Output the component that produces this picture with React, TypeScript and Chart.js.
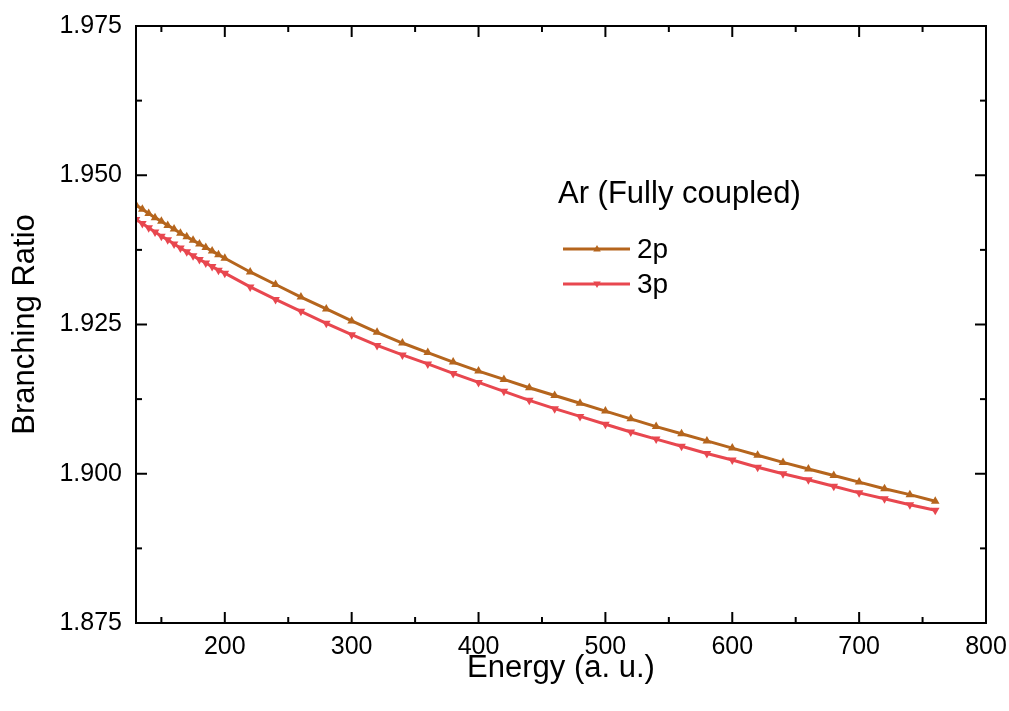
import React, { useEffect, useRef } from "react";
import { Chart, registerables } from "chart.js";

Chart.register(...registerables);

const energies = [
  130, 135, 140, 145, 150, 155, 160, 165, 170, 175, 180, 185, 190, 195, 200,
  220, 240, 260, 280, 300, 320, 340, 360, 380, 400, 420, 440, 460, 480, 500,
  520, 540, 560, 580, 600, 620, 640, 660, 680, 700, 720, 740, 760,
];

const ratio2p = [
  1.945, 1.9443, 1.9436, 1.9429, 1.9423, 1.9416, 1.941, 1.9403, 1.9397, 1.9391,
  1.9385, 1.9379, 1.9373, 1.9367, 1.9361, 1.9338, 1.9317, 1.9296, 1.9276,
  1.9256, 1.9237, 1.9219, 1.9203, 1.9187, 1.9172, 1.9158, 1.9144, 1.9131,
  1.9118, 1.9105, 1.9092, 1.9079, 1.9067, 1.9055, 1.9043, 1.9031, 1.9019,
  1.9008, 1.8997, 1.8986, 1.8975, 1.8965, 1.8954,
];

const ratio3p = [
  1.9426, 1.9419, 1.9412, 1.9405, 1.9398, 1.9392, 1.9385, 1.9378, 1.9372,
  1.9365, 1.9359, 1.9353, 1.9347, 1.9341, 1.9336, 1.9313, 1.9292, 1.9272,
  1.9252, 1.9233, 1.9215, 1.9199, 1.9184, 1.9168, 1.9153, 1.9138, 1.9123,
  1.9109, 1.9096, 1.9083, 1.907, 1.9058, 1.9046, 1.9034, 1.9023, 1.9011, 1.9,
  1.899, 1.8979, 1.8968, 1.8958, 1.8948, 1.8939,
];

const xMajorTicks = [200, 300, 400, 500, 600, 700, 800];
const xMinorTicks = [150, 250, 350, 450, 550, 650, 750];
const yMajorTicks = [1.875, 1.9, 1.925, 1.95, 1.975];
const yMinorTicks = [1.8875, 1.9125, 1.9375, 1.9625];

const legendTitle = "Ar (Fully coupled)";
const seriesNames = ["2p", "3p"];
const seriesColors = ["#B5651D", "#E8474F"];

const FONT = "'Liberation Sans', Arial, sans-serif";

function drawTriangle(ctx: CanvasRenderingContext2D, x: number, y: number, r: number, down: boolean) {
  const s = down ? -1 : 1;
  ctx.beginPath();
  ctx.moveTo(x, y - s * r);
  ctx.lineTo(x + r * 0.95, y + s * r * 0.6);
  ctx.lineTo(x - r * 0.95, y + s * r * 0.6);
  ctx.closePath();
  ctx.fill();
}

const framePlugin = {
  id: "frame",
  afterDraw(chart: any) {
    const { ctx, chartArea } = chart;
    const { left, right, top, bottom } = chartArea;
    const x = chart.scales.x;
    const y = chart.scales.y;
    ctx.save();
    ctx.strokeStyle = "#000";
    ctx.lineWidth = 2;
    ctx.strokeRect(left, top, right - left, bottom - top);
    const seg = (x1: number, y1: number, x2: number, y2: number) => {
      ctx.beginPath();
      ctx.moveTo(x1, y1);
      ctx.lineTo(x2, y2);
      ctx.stroke();
    };
    xMajorTicks.forEach((v) => {
      const p = x.getPixelForValue(v);
      seg(p, bottom, p, bottom - 11);
      seg(p, top, p, top + 11);
    });
    xMinorTicks.forEach((v) => {
      const p = x.getPixelForValue(v);
      seg(p, bottom, p, bottom - 6);
      seg(p, top, p, top + 6);
    });
    yMajorTicks.forEach((v) => {
      const p = y.getPixelForValue(v);
      seg(left, p, left + 11, p);
      seg(right, p, right - 11, p);
    });
    yMinorTicks.forEach((v) => {
      const p = y.getPixelForValue(v);
      seg(left, p, left + 6, p);
      seg(right, p, right - 6, p);
    });

    // legend
    ctx.fillStyle = "#000";
    ctx.textBaseline = "middle";
    ctx.textAlign = "left";
    ctx.font = `31px ${FONT}`;
    ctx.fillText(legendTitle, 558, 194);
    const rows = [249, 284];
    seriesNames.forEach((name, i) => {
      const yy = rows[i];
      ctx.strokeStyle = seriesColors[i];
      ctx.lineWidth = 3;
      seg(563, yy, 630, yy);
      ctx.fillStyle = seriesColors[i];
      drawTriangle(ctx, 597, yy, 4, i === 1);
      ctx.fillStyle = "#000";
      ctx.font = `28px ${FONT}`;
      ctx.fillText(name, 637, yy + 1);
    });
    ctx.restore();
  },
};

export default function App() {
  const ref = useRef<HTMLCanvasElement | null>(null);
  useEffect(() => {
    if (!ref.current) return;
    const chart = new Chart(ref.current, {
      type: "line",
      data: {
        datasets: seriesNames.map((name, i) => ({
          label: name,
          data: energies.map((e, j) => ({ x: e, y: (i === 0 ? ratio2p : ratio3p)[j] })),
          borderColor: seriesColors[i],
          backgroundColor: seriesColors[i],
          borderWidth: 3,
          pointStyle: "triangle",
          pointRotation: i === 1 ? 180 : 0,
          pointRadius: 5,
          pointBorderWidth: 0,
          pointBackgroundColor: seriesColors[i],
          tension: 0,
        })),
      },
      options: {
        animation: false,
        responsive: false,
        layout: { padding: { left: 0, top: 26, right: 23, bottom: 0 } },
        plugins: { legend: { display: false }, tooltip: { enabled: false } },
        scales: {
          x: {
            type: "linear",
            min: 130,
            max: 800,
            afterBuildTicks: (scale: any) => {
              scale.ticks = xMajorTicks.map((v) => ({ value: v }));
            },
            afterFit: (scale: any) => {
              scale.height = 88;
              scale.paddingLeft = 0;
              scale.paddingRight = 0;
            },
            grid: { display: false, drawTicks: false },
            border: { display: false },
            ticks: {
              color: "#000",
              padding: 9,
              maxRotation: 0,
              font: { family: FONT, size: 25 },
            },
            title: {
              display: true,
              text: "Energy (a. u.)",
              color: "#000",
              font: { family: FONT, size: 31 },
              padding: { top: 0, bottom: 24 },
            },
          },
          y: {
            type: "linear",
            min: 1.875,
            max: 1.975,
            afterBuildTicks: (scale: any) => {
              scale.ticks = yMajorTicks.map((v) => ({ value: v }));
            },
            afterFit: (scale: any) => {
              scale.width = 136;
              scale.paddingTop = 0;
              scale.paddingBottom = 0;
            },
            grid: { display: false, drawTicks: false },
            border: { display: false },
            ticks: {
              color: "#000",
              padding: 14,
              font: { family: FONT, size: 25 },
              callback: (v: any) => Number(v).toFixed(3),
            },
            title: {
              display: true,
              text: "Branching Ratio",
              color: "#000",
              font: { family: FONT, size: 31 },
              padding: { top: 7, bottom: 0 },
            },
          },
        },
      },
      plugins: [framePlugin],
    } as any);
    return () => chart.destroy();
  }, []);
  return (
    <div style={{ position: "fixed", left: 0, top: 0, width: 1009, height: 711, background: "#fff" }}>
      <canvas ref={ref} width={1009} height={711} style={{ display: "block" }} />
    </div>
  );
}
